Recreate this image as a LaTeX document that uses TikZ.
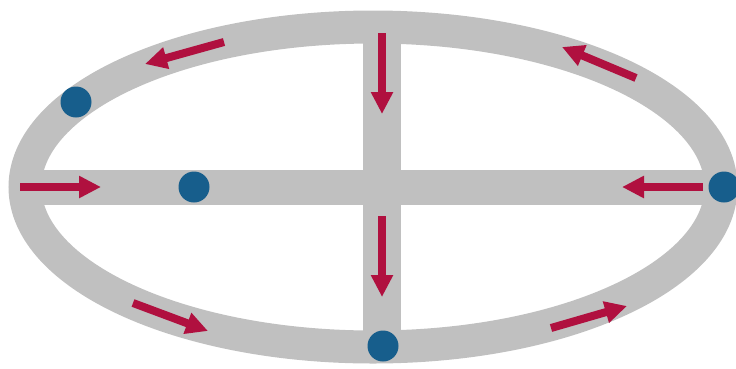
\documentclass[tikz,border=0pt]{standalone}
\usepackage{tikz}
\usetikzlibrary{arrows.meta}

\definecolor{trackgray}{HTML}{C0C0C0}
\definecolor{flowred}{HTML}{B0103F}
\definecolor{stopblue}{HTML}{175E8C}

\begin{document}
\begin{tikzpicture}[x=1pt, y=-1pt,
    track/.style={draw=trackgray},
    flow/.style={draw=flowred, line width=8pt, -{Triangle[length=22pt, width=21pt]}},
    stop/.style={circle, fill=stopblue, minimum size=31pt, inner sep=0pt}]
  \useasboundingbox (0,0) rectangle (736,368);
  % track: ring and cross
  \draw[track, line width=35pt] (25,187) -- (720,187);
  \draw[track, line width=38pt] (382,25) -- (382,347);
  \draw[track, line width=33pt] (373,187) ellipse [x radius=348pt, y radius=160pt];
  % arrow ends
  \coordinate (a1s) at (224,42);  \coordinate (a1e) at (145,64);
  \coordinate (a2s) at (636,78);  \coordinate (a2e) at (562,47);
  \coordinate (a3s) at (382,33);  \coordinate (a3e) at (382,114);
  \coordinate (a4s) at (382,216); \coordinate (a4e) at (382,297);
  \coordinate (a5s) at (20,187);  \coordinate (a5e) at (101,187);
  \coordinate (a6s) at (703,187); \coordinate (a6e) at (622,187);
  \coordinate (a7s) at (133,303); \coordinate (a7e) at (208,331);
  \coordinate (a8s) at (551,328); \coordinate (a8e) at (627,306);
  \draw[flow] (a1s) -- (a1e);
  \draw[flow] (a2s) -- (a2e);
  \draw[flow] (a3s) -- (a3e);
  \draw[flow] (a4s) -- (a4e);
  \draw[flow] (a5s) -- (a5e);
  \draw[flow] (a6s) -- (a6e);
  \draw[flow] (a7s) -- (a7e);
  \draw[flow] (a8s) -- (a8e);
  % stops
  \node[stop] (s1) at (76,102) {};
  \node[stop] (s2) at (194,187) {};
  \node[stop] (s3) at (724,187) {};
  \node[stop] (s4) at (383,346) {};
\end{tikzpicture}
\end{document}
